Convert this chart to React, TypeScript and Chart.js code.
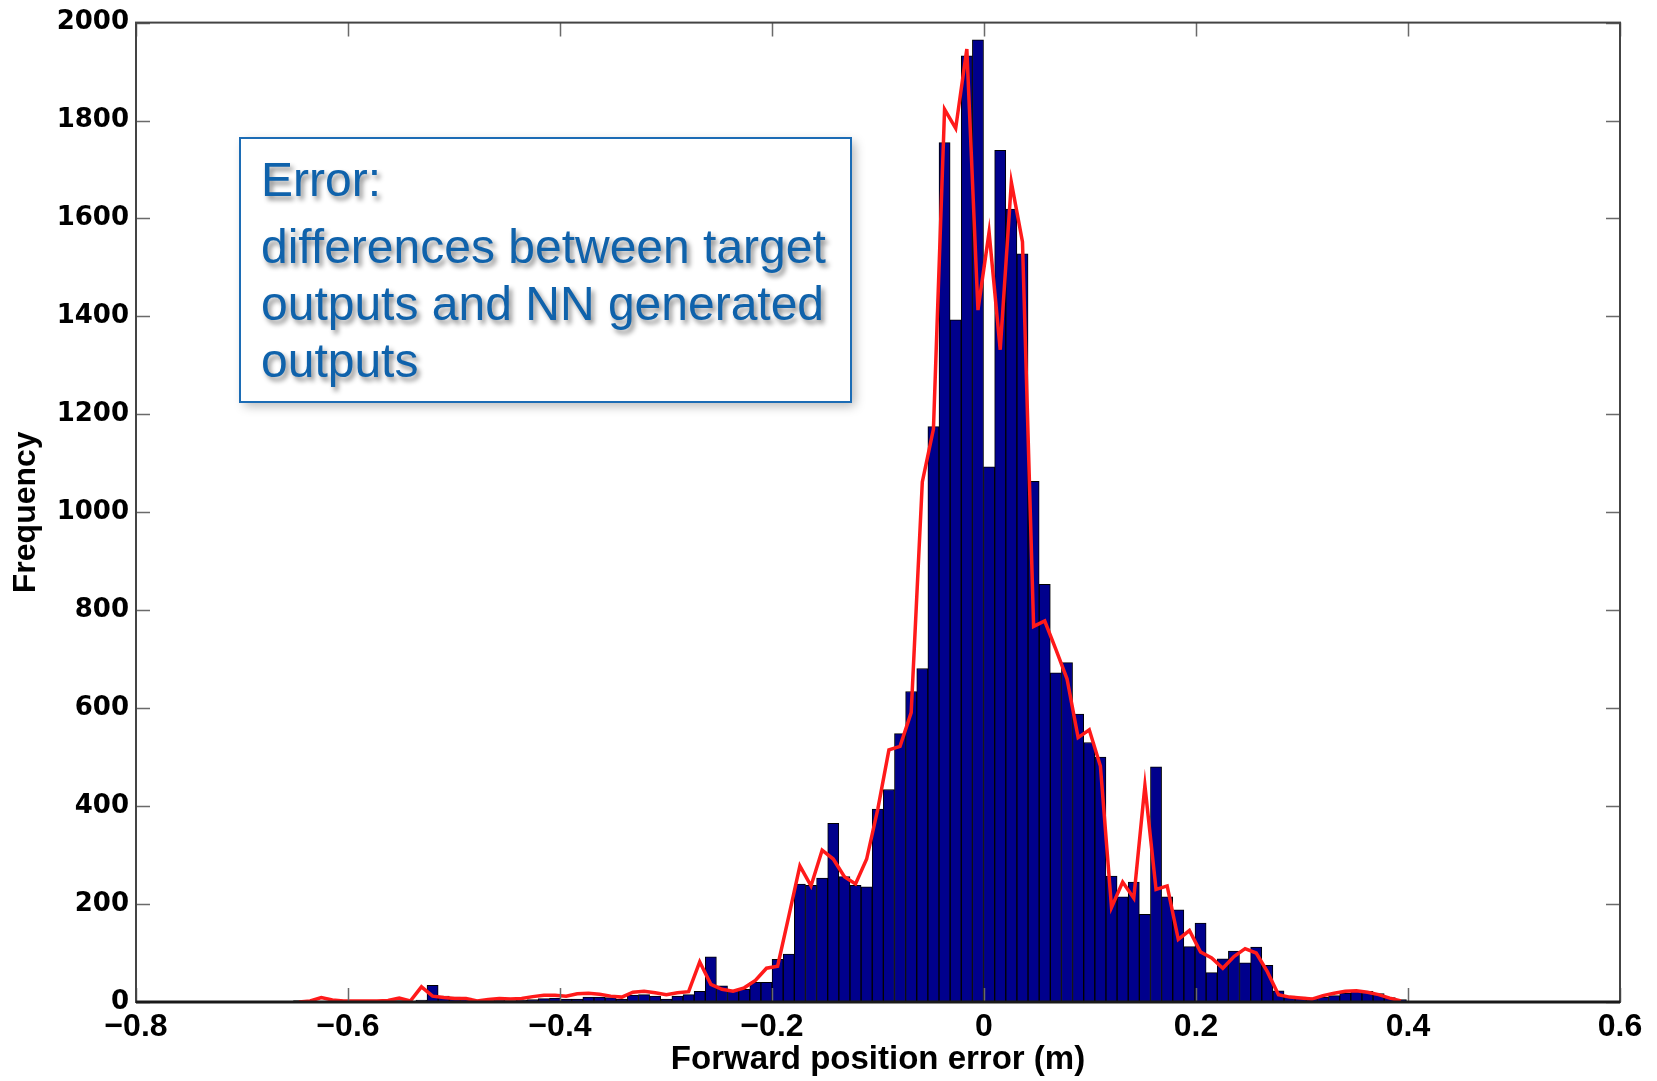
import { useEffect, useRef } from 'react';
import { Chart, registerables } from 'chart.js';

Chart.register(...registerables);

// Histogram bin centres (forward position error, m)
const BIN_CENTERS = [
  -0.6462, -0.6357, -0.6252, -0.6147, -0.6042, -0.5937, -0.5832, -0.5727, -0.5622, -0.5517,
  -0.5412, -0.5307, -0.5202, -0.5097, -0.4992, -0.4887, -0.4782, -0.4677, -0.4572, -0.4467,
  -0.4362, -0.4257, -0.4152, -0.4047, -0.3942, -0.3837, -0.3732, -0.3627, -0.3522, -0.3417,
  -0.3312, -0.3207, -0.3102, -0.2997, -0.2892, -0.2787, -0.2682, -0.2577, -0.2472, -0.2367,
  -0.2262, -0.2157, -0.2052, -0.1947, -0.1842, -0.1737, -0.1632, -0.1527, -0.1422, -0.1317,
  -0.1212, -0.1107, -0.1002, -0.0897, -0.0792, -0.0687, -0.0582, -0.0477, -0.0372, -0.0267,
  -0.0162, -0.0057, 0.0048, 0.0153, 0.0258, 0.0363, 0.0468, 0.0573, 0.0678, 0.0783,
  0.0888, 0.0993, 0.1098, 0.1203, 0.1308, 0.1413, 0.1518, 0.1623, 0.1728, 0.1833,
  0.1938, 0.2043, 0.2148, 0.2253, 0.2358, 0.2463, 0.2568, 0.2673, 0.2778, 0.2883,
  0.2988, 0.3093, 0.3198, 0.3303, 0.3408, 0.3513, 0.3618, 0.3723, 0.3828, 0.3933,
];

// Bar heights: frequency of target/NN differences
const BAR_COUNTS = [
  3, 1, 2, 1, 1, 2, 1, 1, 2, 3,
  2, 4, 34, 12, 10, 8, 4, 3, 4, 3,
  4, 5, 7, 8, 6, 6, 10, 10, 9, 6,
  14, 15, 12, 6, 12, 15, 22, 92, 33, 24,
  26, 40, 40, 87, 98, 241, 238, 253, 365, 256,
  238, 235, 394, 434, 548, 634, 681, 1175, 1755, 1393,
  1932, 1965, 1093, 1739, 1619, 1528, 1063, 853, 672, 693,
  588, 530, 500, 257, 215, 245, 179, 480, 215, 188,
  113, 161, 60, 88, 104, 80, 112, 75, 23, 12,
  10, 8, 10, 13, 18, 24, 22, 17, 9, 5,
];

// Red curve values
const LINE_COUNTS = [
  0, 2, 9, 4, 2, 2, 2, 2, 3, 8,
  2, 31, 12, 9, 7, 7, 2, 5, 7, 6,
  7, 11, 14, 14, 12, 17, 18, 16, 12, 10,
  20, 22, 19, 15, 19, 21, 82, 36, 26, 22,
  29, 44, 69, 73, 175, 278, 237, 310, 292, 256,
  241, 292, 394, 515, 522, 591, 1062, 1170, 1823, 1784,
  1946, 1413, 1572, 1332, 1674, 1552, 767, 778, 720, 660,
  540, 556, 482, 193, 245, 212, 442, 230, 237, 128,
  146, 102, 90, 69, 93, 109, 100, 62, 15, 10,
  8, 6, 13, 18, 22, 23, 20, 15, 8, 2,
];

const X_TICKS = [-0.8, -0.6, -0.4, -0.2, 0, 0.2, 0.4, 0.6];
const X_TICK_LABELS = ['\u22120.8', '\u22120.6', '\u22120.4', '\u22120.2', '0', '0.2', '0.4', '0.6'];
const Y_TICKS = [0, 200, 400, 600, 800, 1000, 1200, 1400, 1600, 1800, 2000];
const X_TITLE = 'Forward position error (m)';
const Y_TITLE = 'Frequency';
const NOTE_HEADING = 'Error:';
const NOTE_LINES = ['differences between target', 'outputs and NN generated', 'outputs'];

const W = 1657;
const H = 1081;

const framePlugin = {
  id: 'matlabFrame',
  afterDatasetsDraw(chart: any) {
    const { ctx, chartArea, scales } = chart;
    const { left, right, top, bottom } = chartArea;
    const xs = scales.x;
    const ys = scales.y;
    ctx.save();
    ctx.strokeStyle = '#6a6a6a';
    ctx.lineWidth = 1.5;
    ctx.beginPath();
    X_TICKS.forEach((v) => {
      const px = Math.round(xs.getPixelForValue(v)) + 0.5;
      ctx.moveTo(px, bottom);
      ctx.lineTo(px, bottom - 14);
      ctx.moveTo(px, top);
      ctx.lineTo(px, top + 14);
    });
    Y_TICKS.forEach((v) => {
      const py = Math.round(ys.getPixelForValue(v)) + 0.5;
      ctx.moveTo(left, py);
      ctx.lineTo(left + 14, py);
      ctx.moveTo(right, py);
      ctx.lineTo(right - 14, py);
    });
    ctx.stroke();
    ctx.strokeStyle = '#444';
    ctx.lineWidth = 2;
    ctx.strokeRect(left, top, right - left, bottom - top);
    ctx.strokeStyle = '#1a1a1a';
    ctx.lineWidth = 3;
    ctx.beginPath();
    ctx.moveTo(left, bottom);
    ctx.lineTo(right, bottom);
    ctx.stroke();
    ctx.restore();
  },
};

const notePlugin = {
  id: 'noteBox',
  afterDraw(chart: any) {
    const { ctx } = chart;
    const bx = 240, by = 138, bw = 611, bh = 264;
    ctx.save();
    ctx.shadowColor = 'rgba(0,0,0,0.28)';
    ctx.shadowBlur = 10;
    ctx.shadowOffsetX = 4;
    ctx.shadowOffsetY = 4;
    ctx.fillStyle = '#ffffff';
    ctx.fillRect(bx, by, bw, bh);
    ctx.restore();

    ctx.save();
    ctx.strokeStyle = '#1c6cb5';
    ctx.lineWidth = 2;
    ctx.strokeRect(bx, by, bw, bh);

    ctx.fillStyle = '#0f62ab';
    ctx.font = '48px "Liberation Sans", Arial, sans-serif';
    ctx.textAlign = 'left';
    ctx.textBaseline = 'alphabetic';
    ctx.shadowColor = 'rgba(0,0,0,0.45)';
    ctx.shadowBlur = 5;
    ctx.shadowOffsetX = 3;
    ctx.shadowOffsetY = 4;
    ctx.fillText(NOTE_HEADING, 261, 196);
    const baselines = [263, 320, 377];
    NOTE_LINES.forEach((t, i) => ctx.fillText(t, 261, baselines[i]));
    ctx.restore();
  },
};

export default function App() {
  const canvasRef = useRef<HTMLCanvasElement | null>(null);

  useEffect(() => {
    const canvas = canvasRef.current;
    if (!canvas) return;
    const barData = BIN_CENTERS.map((x, i) => ({ x, y: BAR_COUNTS[i] }));
    const lineData = BIN_CENTERS.map((x, i) => ({ x, y: LINE_COUNTS[i] }));

    const chart = new Chart(canvas, {
      type: 'bar',
      data: {
        datasets: [
          {
            type: 'line',
            data: lineData,
            borderColor: '#ff1a1a',
            borderWidth: 3.5,
            pointRadius: 0,
            tension: 0,
            fill: false,
            order: 0,
          } as any,
          {
            type: 'bar',
            data: barData,
            backgroundColor: '#00008c',
            borderColor: '#000000',
            borderWidth: 1,
            borderSkipped: false,
            barPercentage: 1,
            categoryPercentage: 1,
            order: 1,
          } as any,
        ],
      },
      options: {
        animation: false,
        responsive: false,
        devicePixelRatio: 1,
        layout: { padding: { top: 20, right: 37, left: 0, bottom: 0 } },
        plugins: {
          legend: { display: false },
          tooltip: { enabled: false },
        },
        scales: {
          x: {
            type: 'linear',
            min: -0.8,
            max: 0.6,
            offset: false,
            afterBuildTicks: (s: any) => {
              s.ticks = X_TICKS.map((v) => ({ value: v }));
            },
            afterFit: (s: any) => {
              s.height = H - 1002;
            },
            ticks: {
              autoSkip: false,
              maxRotation: 0,
              padding: 6,
              color: '#000',
              font: { family: '"Liberation Sans", Arial, sans-serif', size: 32, weight: 'bold', lineHeight: 1.2 },
              callback: (v: any) => {
                const i = X_TICKS.findIndex((t) => Math.abs(t - Number(v)) < 1e-9);
                return i >= 0 ? X_TICK_LABELS[i] : '';
              },
            },
            grid: { display: false, drawTicks: false },
            border: { display: false },
            title: {
              display: true,
              text: X_TITLE,
              color: '#000',
              font: { family: '"Liberation Sans", Arial, sans-serif', size: 33, weight: 'bold', lineHeight: 1.2 },
              padding: { top: 0, bottom: 1 },
            },
          },
          y: {
            type: 'linear',
            min: 0,
            max: 2000,
            afterBuildTicks: (s: any) => {
              s.ticks = Y_TICKS.map((v) => ({ value: v }));
            },
            afterFit: (s: any) => {
              s.width = 136;
            },
            ticks: {
              padding: 7,
              color: '#000',
              font: { family: '"DejaVu Sans", sans-serif', size: 26, weight: 'bold', lineHeight: 1.2 },
              callback: (v: any) => String(v),
            },
            grid: { display: false, drawTicks: false },
            border: { display: false },
            title: {
              display: true,
              text: Y_TITLE,
              color: '#000',
              font: { family: '"Liberation Sans", Arial, sans-serif', size: 32, weight: 'bold', lineHeight: 1.2 },
              padding: { top: 7, bottom: 0 },
            },
          },
        },
      },
      plugins: [framePlugin, notePlugin],
    });

    return () => chart.destroy();
  }, []);

  return (
    <div style={{ position: 'fixed', left: 0, top: 0, width: W, height: H, background: '#ffffff' }}>
      <canvas ref={canvasRef} width={W} height={H} style={{ width: W, height: H, display: 'block' }} />
    </div>
  );
}
